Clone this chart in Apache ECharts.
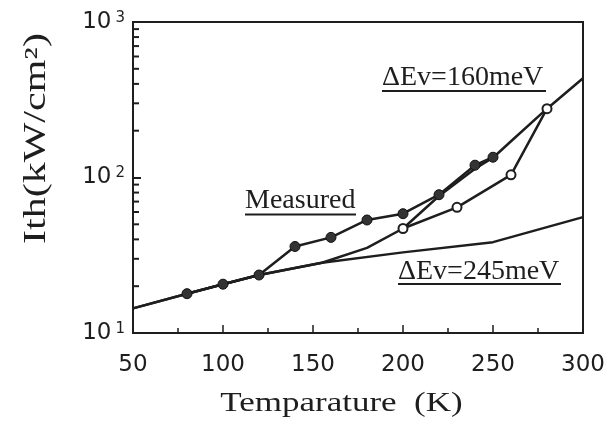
<!DOCTYPE html>
<html><head><meta charset="utf-8">
<script src="https://cdn.jsdelivr.net/npm/echarts@6/dist/echarts.min.js"></script>
<style>html,body{margin:0;padding:0;background:#fff}#c{width:612px;height:432px}</style>
</head><body><div id="c"></div>
<script>
// ---- data ----
const xMin = 50, xMax = 300, xStep = 50;
const yMin = 10, yMax = 1000;
const measuredT = [80, 100, 120, 140, 160, 180, 200, 220, 240, 250];
const measuredI = [17.9, 20.6, 23.6, 36.0, 41.2, 53.3, 58.5, 77.5, 120, 135];
const openT = [200, 230, 260, 280];
const openI = [47, 64.3, 104, 277];
const ev160T = [50, 80, 100, 120, 155, 180, 200, 220, 240, 250, 260, 280, 300];
const ev160I = [14.4, 17.9, 20.6, 23.6, 28.3, 35.3, 47, 76, 114, 134, 171, 277, 435];
const ev245T = [50, 80, 100, 120, 155, 200, 250, 300];
const ev245I = [14.4, 17.9, 20.6, 23.6, 28.3, 33, 38.4, 55.6];
const yMinorTicks = [20, 30, 40, 50, 60, 70, 80, 90, 200, 300, 400, 500, 600, 700, 800, 900];
const label160 = 'ΔEv=160meV';
const label245 = 'ΔEv=245meV';
const labelMeasured = 'Measured';
const xTitle = 'Temparature  (K)';
const yTitle = 'Ith(kW/cm²)';

const pairs = (a, b) => a.map((v, i) => [v, b[i]]);
const INK = '#1e1e1e';
const serif = '"Liberation Serif", "Times New Roman", serif';
const sans = '"DejaVu Sans", sans-serif';

const chart = echarts.init(document.getElementById('c'), null, {renderer: 'canvas'});

function underlined(text, x, yMid, x2, yLine) {
  return {
    type: 'group', silent: true,
    children: [
      {type: 'text', x: x, y: yMid, style: {text: text, font: '28px ' + serif, fill: INK, align: 'left', verticalAlign: 'middle'}},
      {type: 'line', shape: {x1: x, y1: yLine, x2: x2, y2: yLine}, style: {stroke: INK, lineWidth: 2}}
    ]
  };
}

chart.setOption({
  animation: false,
  backgroundColor: '#fff',
  grid: {left: 133, right: 29, top: 22, bottom: 99, show: true, borderColor: INK, borderWidth: 2, backgroundColor: 'transparent'},
  xAxis: {
    type: 'value', min: xMin, max: xMax, interval: xStep,
    axisLine: {show: true, lineStyle: {color: INK, width: 2}},
    axisTick: {show: true, inside: true, length: 8, lineStyle: {color: INK, width: 1.5}},
    minorTick: {show: true, splitNumber: 2, length: 5, lineStyle: {color: INK, width: 1.5}},
    splitLine: {show: false},
    axisLabel: {margin: 21, fontFamily: sans, fontSize: 23, color: INK}
  },
  yAxis: {
    type: 'log', logBase: 10, min: yMin, max: yMax,
    axisLine: {show: true, lineStyle: {color: INK, width: 2}},
    axisTick: {show: true, inside: true, length: 8, lineStyle: {color: INK, width: 2}},
    splitLine: {show: false},
    axisLabel: {
      margin: 8,
      formatter: v => '{b|10}{s|' + Math.round(Math.log10(v)) + '}',
      rich: {
        b: {fontFamily: sans, fontSize: 23, color: INK},
        s: {fontFamily: sans, fontSize: 15, color: INK, verticalAlign: 'top', padding: [0, 0, 0, 4]}
      }
    }
  },
  series: [
    {name: 'ΔEv=245meV', type: 'line', data: pairs(ev245T, ev245I), symbol: 'none', silent: true,
     lineStyle: {color: INK, width: 2.5}, z: 2},
    {name: 'ΔEv=160meV', type: 'line', data: pairs(ev160T, ev160I), symbol: 'none', silent: true,
     lineStyle: {color: INK, width: 2.5}, z: 2},
    {name: 'Calculated points', type: 'line', data: pairs(openT, openI), symbol: 'circle', symbolSize: 9,
     itemStyle: {color: '#fff', borderColor: INK, borderWidth: 2}, lineStyle: {color: INK, width: 2.5}, z: 3},
    {name: 'Measured', type: 'line', data: pairs(measuredT, measuredI), symbol: 'circle', symbolSize: 10,
     itemStyle: {color: '#333', borderColor: '#111', borderWidth: 1}, lineStyle: {color: INK, width: 2.5}, z: 4},
    {name: 'yMinorTicks', type: 'custom', silent: true, clip: false, z: 5,
     data: yMinorTicks.map(v => [xMin, v]),
     renderItem: (params, api) => {
       const p = api.coord([api.value(0), api.value(1)]);
       return {type: 'line', shape: {x1: p[0], y1: p[1], x2: p[0] + 6, y2: p[1]}, style: {stroke: INK, lineWidth: 2}};
     }}
  ],
  graphic: [
    underlined(labelMeasured, 245, 200.5, 356, 214.5),
    underlined(label160, 382, 78, 546, 91),
    underlined(label245, 398, 271.5, 561, 284),
    {type: 'text', silent: true, x: 341.5, y: 404, scaleX: 1.25,
     style: {text: xTitle, font: '28px ' + serif, fill: INK, align: 'center', verticalAlign: 'middle'}},
    {type: 'text', silent: true, x: 36.5, y: 138.5, rotation: Math.PI / 2, scaleX: 1.5, scaleY: 1.1,
     style: {text: yTitle, font: '28px ' + serif, fill: INK, align: 'center', verticalAlign: 'middle'}}
  ]
});
</script>
</body></html>
